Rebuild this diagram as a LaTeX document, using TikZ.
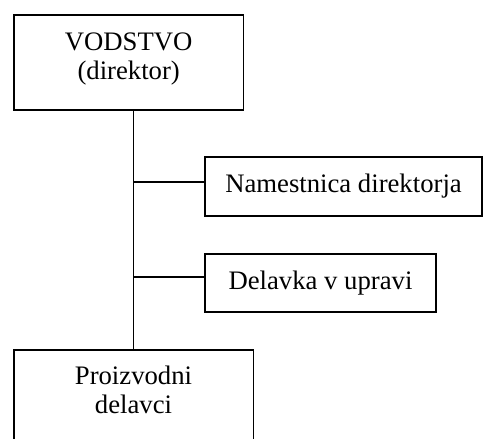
\documentclass[tikz,border=0pt]{standalone}
\usepackage{fontspec}
\setmainfont{Liberation Serif}
\begin{document}
\begin{tikzpicture}[x=1pt,y=-1pt,
  box/.style={draw,line width=1.4pt,rectangle,inner sep=0pt,align=center},
  conn/.style={line width=1.4pt},
  every node/.style={font=\fontsize{26.7}{28.5}\selectfont}]
\useasboundingbox (0,0) rectangle (483,439);
\node[box,minimum width=229.3pt,minimum height=95pt] (top) at (128.7,62.5) {VODSTVO\\(direktor)\rule[-13pt]{0pt}{0pt}};
\node[box,minimum width=277pt,minimum height=59pt] (nam) at (343.5,186.5) {Namestnica direktorja};
\node[box,minimum width=231pt,minimum height=58pt] (del) at (320.5,283) {Delavka v upravi};
\node[draw=none,inner sep=0pt,align=center,minimum width=239pt,minimum height=80pt] (bot) at (133.5,390) {Proizvodni\\delavci};
\coordinate (spine) at (133.5,0);
\coordinate (b1) at (133.5,182);
\coordinate (b2) at (133.5,277);
\draw[conn] ([yshift=-20pt]bot.south west) |- (bot.north east) -- ([yshift=-20pt]bot.south east);
\draw[conn] (spine |- top.south) -- (spine |- bot.north);
\draw[conn] (b1) -- (b1 -| nam.west);
\draw[conn] (b2) -- (b2 -| del.west);
\end{tikzpicture}
\end{document}
